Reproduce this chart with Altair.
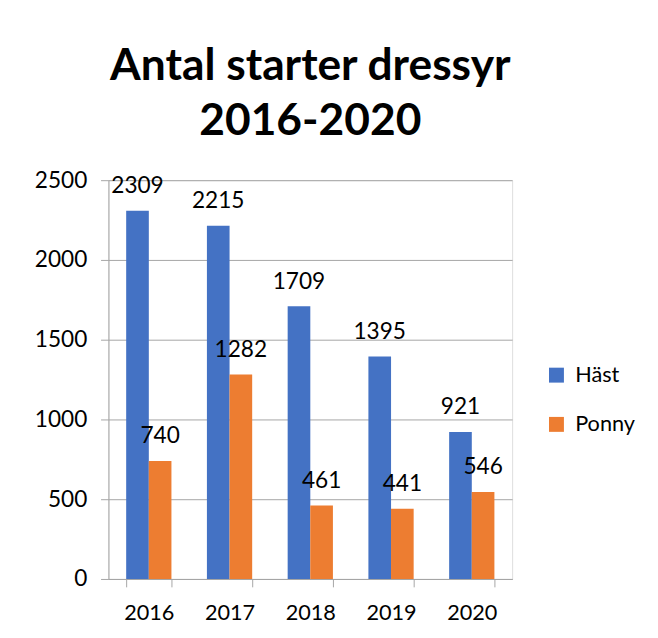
import altair as alt
import pandas as pd

years = ["2016", "2017", "2018", "2019", "2020"]
hast = [2309, 2215, 1709, 1395, 921]
ponny = [740, 1282, 461, 441, 546]
series = ["Häst", "Ponny"]
colors = ["#4472C4", "#ED7D31"]

rows = []
for i, y in enumerate(years):
    rows.append({"year": y, "serie": series[0], "value": hast[i]})
    rows.append({"year": y, "serie": series[1], "value": ponny[i]})
df = pd.DataFrame(rows)

FONT = "Lato"

x = alt.X("year:N", title=None, sort=years,
          scale=alt.Scale(paddingInner=0.44, paddingOuter=0.22),
          axis=alt.Axis(labelAngle=0, labelFontSize=22, labelColor="#000000",
                        labelFont=FONT, labelPadding=16, tickBand="extent",
                        tickSize=8, tickColor="#A6A6A6", domainColor="#A6A6A6",
                        grid=False))
y = alt.Y("value:Q", title=None,
          scale=alt.Scale(domain=[0, 2500], nice=False),
          axis=alt.Axis(values=[0, 500, 1000, 1500, 2000, 2500], format="d",
                        labelFontSize=23, labelFont=FONT, labelColor="#000000",
                        labelPadding=14, tickSize=8, tickColor="#A6A6A6",
                        domainColor="#A6A6A6", gridColor="#A6A6A6", gridWidth=1))
xoff = alt.XOffset("serie:N", sort=series, scale=alt.Scale(paddingInner=0, paddingOuter=0))
color = alt.Color("serie:N", sort=series, scale=alt.Scale(domain=series, range=colors),
                  legend=alt.Legend(title=None, orient="none", legendX=444, legendY=187,
                                    symbolType="square", symbolSize=230,
                                    symbolStrokeWidth=0, labelFontSize=22,
                                    labelFont=FONT, labelColor="#000000",
                                    rowPadding=28, labelOffset=8))

bars = alt.Chart(df).mark_bar(size=23).encode(x=x, y=y, xOffset=xoff, color=color)
labels = alt.Chart(df).mark_text(fontSize=23, font=FONT, color="#000000",
                                 baseline="alphabetic", dy=-18).encode(
    x=x, y=y, xOffset=xoff, text=alt.Text("value:Q", format="d"))

chart = (bars + labels).properties(
    width=410, height=405,
    title=alt.TitleParams(text=["Antal starter dressyr", "2016-2020"], fontSize=45,
                          font=FONT, fontWeight="bold", color="#000000",
                          anchor="middle", offset=26, lineHeight=56),
    autosize=alt.AutoSizeParams(type="none"),
    padding={"left": 102, "top": 170, "right": 140, "bottom": 50},
).configure_view(stroke=None).configure(background="#FFFFFF")

chart.save("out.html", embed_options={"renderer": "svg", "actions": False})
